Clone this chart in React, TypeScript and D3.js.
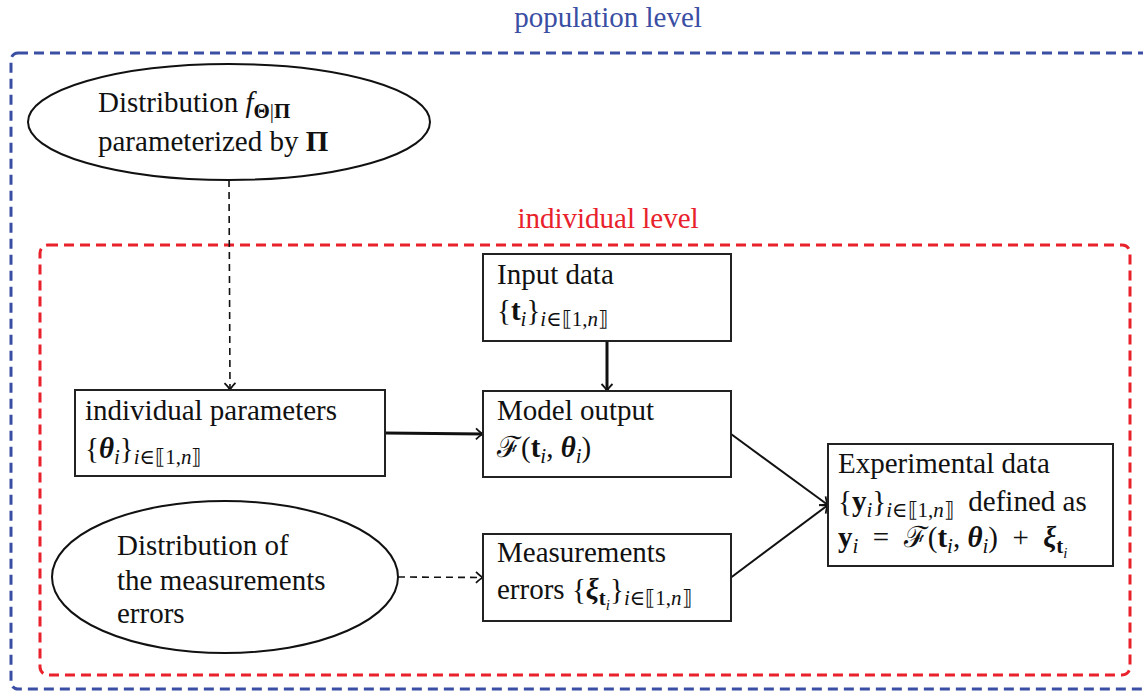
import React from 'react';
import * as d3 from 'd3';

// text segments: [text, style, level]  style: r=roman i=italic b=bold bi=bold italic c=calligraphic
type Seg = [string, string, number];

const populationLabel = 'population level';
const individualLabel = 'individual level';

const priorLines: Seg[][] = [
    [['Distribution ', 'r', 0], ['f', 'i', 0], ['Θ', 'b', 1], ['|', 'r', 1], ['Π', 'b', 1]],
    [['parameterized by ', 'r', 0], ['Π', 'b', 0]]
];
const paramsLines: Seg[][] = [
    [['individual parameters', 'r', 0]],
    [['{', 'r', 0], ['θ', 'bi', 0], ['i', 'i', 1], ['}', 'r', 0], ['i', 'i', 1], ['∈⟦1,', 'r', 1], ['n', 'i', 1], ['⟧', 'r', 1]]
];
const inputLines: Seg[][] = [
    [['Input data', 'r', 0]],
    [['{', 'r', 0], ['t', 'b', 0], ['i', 'i', 1], ['}', 'r', 0], ['i', 'i', 1], ['∈⟦1,', 'r', 1], ['n', 'i', 1], ['⟧', 'r', 1]]
];
const modelLines: Seg[][] = [
    [['Model output', 'r', 0]],
    [['ℱ', 'c', 0], ['(', 'r', 0], ['t', 'b', 0], ['i', 'i', 1], [', ', 'r', 0], ['θ', 'bi', 0], ['i', 'i', 1], [')', 'r', 0]]
];
const measLines: Seg[][] = [
    [['Measurements', 'r', 0]],
    [['errors ', 'r', 0], ['{', 'r', 0], ['ξ', 'bi', 0], ['t', 'b', 1], ['i', 'i', 2], ['}', 'r', 0], ['i', 'i', 1], ['∈⟦1,', 'r', 1], ['n', 'i', 1], ['⟧', 'r', 1]]
];
const expLines: Seg[][] = [
    [['Experimental data', 'r', 0]],
    [['{', 'r', 0], ['y', 'b', 0], ['i', 'i', 1], ['}', 'r', 0], ['i', 'i', 1], ['∈⟦1,', 'r', 1], ['n', 'i', 1], ['⟧', 'r', 1], ['\u2002defined as', 'r', 0]],
    [['y', 'b', 0], ['i', 'i', 1], ['\u2002=\u2002', 'r', 0], ['ℱ', 'c', 0], ['(', 'r', 0], ['t', 'b', 0], ['i', 'i', 1], [', ', 'r', 0], ['θ', 'bi', 0], ['i', 'i', 1], [')\u2002+\u2002', 'r', 0], ['ξ', 'bi', 0], ['t', 'b', 1], ['i', 'i', 2]]
];
const noiseLines: Seg[][] = [
    [['Distribution of', 'r', 0]],
    [['the measurements', 'r', 0]],
    [['errors', 'r', 0]]
];

const nodes = [
    {id: 'prior', shape: 'ellipse', lines: priorLines},
    {id: 'params', shape: 'box', lines: paramsLines},
    {id: 'input', shape: 'box', lines: inputLines},
    {id: 'model', shape: 'box', lines: modelLines},
    {id: 'meas', shape: 'box', lines: measLines},
    {id: 'exp', shape: 'box', lines: expLines},
    {id: 'noise', shape: 'ellipse', lines: noiseLines}
];

// [from, fromSide, to, toSide, kind]
const edges = [
    ['prior', 'bottom', 'params', 'top', 'dashed'],
    ['params', 'right', 'model', 'left', 'thick'],
    ['input', 'bottom', 'model', 'top', 'thick'],
    ['model', 'right', 'exp', 'left', 'thin'],
    ['meas', 'right', 'exp', 'left', 'thin'],
    ['noise', 'right', 'meas', 'left', 'dashed']
];

// geometry of the nodes (pixel layout)
const layout: any = {
    prior: {cx: 229, cy: 122, rx: 201, ry: 58, tx: 98, ty: [112, 151]},
    params: {x: 75, y: 390, w: 310, h: 86, tx: 85, ty: [420, 458]},
    input: {x: 483, y: 254, w: 248, h: 87, tx: 497, ty: [284, 320]},
    model: {x: 483, y: 391, w: 248, h: 86, tx: 497, ty: [420, 457]},
    meas: {x: 483, y: 534, w: 248, h: 87, tx: 497, ty: [562, 599]},
    exp: {x: 828, y: 444, w: 285, h: 122, tx: 838, ty: [473, 511, 547]},
    noise: {cx: 225, cy: 577, rx: 173, ry: 76, tx: 117, ty: [555, 590, 623]}
};

const W = 1143, H = 692;
const FONT = '"Liberation Serif", "DejaVu Serif", "Times New Roman", serif';
const FS = 29;
const BLUE = '#3a4ea3';
const RED = '#e8212b';

const levelSize = [FS, 21, 15];
const levelShift = [0, 6, 11];

function anchor(id: string, side: string) {
    const g = layout[id];
    if (g.cx !== undefined) {
        if (side === 'bottom') return [g.cx, g.cy + g.ry];
        if (side === 'top') return [g.cx, g.cy - g.ry];
        if (side === 'right') return [g.cx + g.rx, g.cy];
        return [g.cx - g.rx, g.cy];
    }
    if (side === 'bottom') return [g.x + g.w / 2, g.y + g.h];
    if (side === 'top') return [g.x + g.w / 2, g.y];
    if (side === 'right') return [g.x + g.w, g.y + g.h / 2];
    return [g.x, g.y + g.h / 2];
}

const RichLine = ({segs, x, y}: {segs: Seg[], x: number, y: number}) => {
    let prev = 0;
    return <text x={x} y={y} fontFamily={FONT} fontSize={FS} fill="#111" style={{whiteSpace: 'pre'}}>
        {segs.map(([t, st, lv], k) => {
            const dy = levelShift[lv] - levelShift[prev];
            prev = lv;
            return <tspan key={k} dy={dy}
                          fontSize={levelSize[lv]}
                          fontStyle={st === 'i' || st === 'bi' ? 'italic' : 'normal'}
                          fontWeight={st === 'b' || st === 'bi' ? 'bold' : 'normal'}
                          fontFamily={st === 'c' ? '"DejaVu Serif", serif' : FONT}>{t}</tspan>;
        })}
    </text>;
};

const App = () => {
    const line = d3.line();
    return (
        <svg width={W} height={H} style={{position: 'absolute', left: 0, top: 0, background: '#fff'}}>
            <defs>
                <marker id="tip" viewBox="-10 -8 12 16" markerWidth={12} markerHeight={16} refX={0} refY={0}
                        orient="auto" markerUnits="userSpaceOnUse">
                    <path d="M -7 -5.5 Q -2.5 -1 0 0 Q -2.5 1 -7 5.5" fill="none" stroke="#111" strokeWidth={1.8}/>
                </marker>
            </defs>

            {/* population level frame */}
            <rect x={11} y={53} width={1150} height={636} rx={7} fill="none" stroke={BLUE} strokeWidth={3}
                  strokeDasharray="10 6"/>
            <text x={608} y={27} textAnchor="middle" fontFamily={FONT} fontSize={FS} fill={BLUE}>{populationLabel}</text>

            {/* individual level frame */}
            <rect x={40} y={245} width={1090} height={430} rx={8} fill="none" stroke={RED} strokeWidth={3}
                  strokeDasharray="10 6"/>
            <text x={608} y={228} textAnchor="middle" fontFamily={FONT} fontSize={FS} fill={RED}>{individualLabel}</text>

            {edges.map(([a, sa, b, sb, kind], k) => {
                const p0 = anchor(a, sa) as [number, number];
                const p1 = anchor(b, sb) as [number, number];
                return <path key={k} d={line([p0, p1]) as string} fill="none" stroke="#111"
                             strokeWidth={kind === 'thick' ? 3 : kind === 'thin' ? 2 : 1.6}
                             strokeDasharray={kind === 'dashed' ? '7 5' : undefined}
                             markerEnd="url(#tip)"/>;
            })}

            {nodes.map(n => {
                const g = layout[n.id];
                return <g key={n.id}>
                    {n.shape === 'ellipse'
                        ? <ellipse cx={g.cx} cy={g.cy} rx={g.rx} ry={g.ry} fill="#fff" stroke="#111" strokeWidth={2}/>
                        : <rect x={g.x} y={g.y} width={g.w} height={g.h} fill="#fff" stroke="#222" strokeWidth={2}/>}
                    {n.lines.map((segs, i) => <RichLine key={i} segs={segs} x={g.tx} y={g.ty[i]}/>)}
                </g>;
            })}
        </svg>
    );
};

export default App;
